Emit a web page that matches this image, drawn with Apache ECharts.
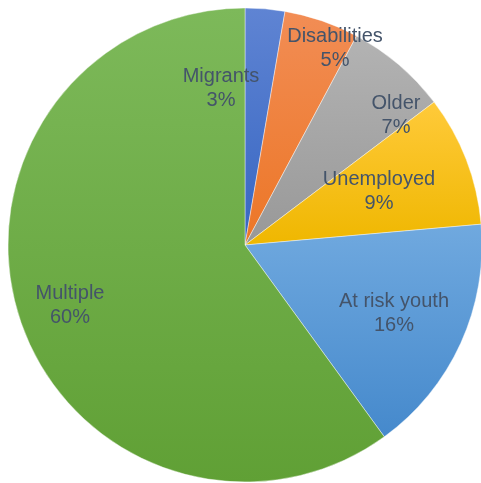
<!DOCTYPE html>
<html>
<head>
<meta charset="utf-8">
<script src="https://cdn.jsdelivr.net/npm/echarts@6/dist/echarts.min.js"></script>
<style>
  html, body { margin: 0; padding: 0; background: #fff; }
  #main { width: 481px; height: 483px; }
</style>
</head>
<body>
<div id="main"></div>
<script>
// 数据 (标签显示取整后的百分比)
var categories = ['Migrants', 'Disabilities', 'Older', 'Unemployed', 'At risk youth', 'Multiple'];
var values = [2.7, 5.1, 6.9, 8.9, 16.4, 60.0];

// 颜色 (上浅下深)
var topColors = ['#5f84d3', '#f28d55', '#b3b3b3', '#ffca3a', '#70a9df', '#7db95a'];
var bottomColors = ['#3766c2', '#ec7626', '#989898', '#efb700', '#4589cc', '#60a035'];

// 标签位置 (中心点)
var labelPos = [[221, 88], [335, 48], [396, 115], [379, 191], [394, 313], [70, 305]];

var chartData = categories.map(function (name, i) {
  return {
    name: name,
    value: values[i],
    itemStyle: {
      color: new echarts.graphic.LinearGradient(0, 0, 0, 1, [
        { offset: 0, color: topColors[i] },
        { offset: 1, color: bottomColors[i] }
      ])
    }
  };
});

var myChart = echarts.init(document.getElementById('main'));
var option = {
  animation: false,
  series: [{
    type: 'pie',
    center: [245, 245],
    radius: 237,
    startAngle: 90,
    clockwise: true,
    avoidLabelOverlap: false,
    itemStyle: {
      borderColor: 'rgba(255,255,255,0.7)',
      borderWidth: 0.6
    },
    label: {
      show: true,
      position: 'inside',
      formatter: function (p) { return p.name + '\n' + Math.round(p.percent) + '%'; },
      color: '#44546a',
      fontFamily: 'Liberation Sans, Arial, sans-serif',
      fontSize: 20,
      lineHeight: 24,
      align: 'center'
    },
    labelLine: { show: false },
    labelLayout: function (params) {
      var p = labelPos[params.dataIndex];
      return { x: p[0], y: p[1], align: 'center', verticalAlign: 'middle' };
    },
    data: chartData
  }]
};
myChart.setOption(option);
</script>
</body>
</html>
